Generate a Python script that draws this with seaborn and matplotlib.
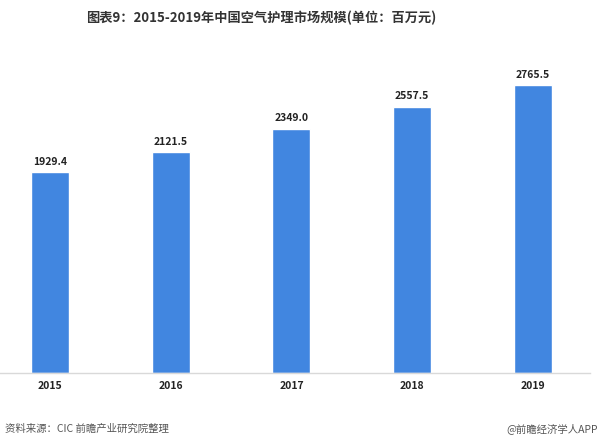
import pandas as pd
import seaborn as sns
import matplotlib.pyplot as plt

years = ["2015", "2016", "2017", "2018", "2019"]
values = [1929.4, 2121.5, 2349.0, 2557.5, 2765.5]

df = pd.DataFrame({"year": years, "value": values})

sns.set_theme(style="white")
plt.rcParams['font.family'] = ['Noto Sans CJK SC', 'DejaVu Sans']

fig = plt.figure(figsize=(6, 4.47), dpi=100)
ax = fig.add_axes([0.0, 0.1655, 0.983, 0.698])

sns.barplot(data=df, x="year", y="value", color="#4186E0", width=0.315,
            saturation=1, ax=ax)

for i, v in enumerate(values):
    ax.text(i, v + 55, f"{v:.1f}", ha="center", va="bottom",
            fontsize=7.5, fontweight="bold", color="#222222")

ax.set_ylim(0, 3000)
ax.set_xlim(-0.414, 4.472)
ax.set_xlabel("")
ax.set_ylabel("")
ax.set_yticks([])
for s in ["top", "right", "left"]:
    ax.spines[s].set_visible(False)
ax.spines["bottom"].set_color("#D9D9D9")
ax.spines["bottom"].set_linewidth(1)
ax.tick_params(axis="x", length=0, pad=6)
for lab in ax.get_xticklabels():
    lab.set_fontsize(7.5)
    lab.set_fontweight("bold")
    lab.set_color("#222222")

fig.text(0.435, 0.96, "图表9：2015-2019年中国空气护理市场规模(单位：百万元)",
         ha="center", va="center", fontsize=9.5, fontweight="bold", color="#333333")
fig.text(0.008, 0.042, "资料来源：CIC 前瞻产业研究院整理", ha="left", va="center",
         fontsize=7.5, color="#555555")
fig.text(0.997, 0.042, "@前瞻经济学人APP", ha="right", va="center",
         fontsize=7.5, color="#555555")

fig.savefig("out.png", dpi=100)
